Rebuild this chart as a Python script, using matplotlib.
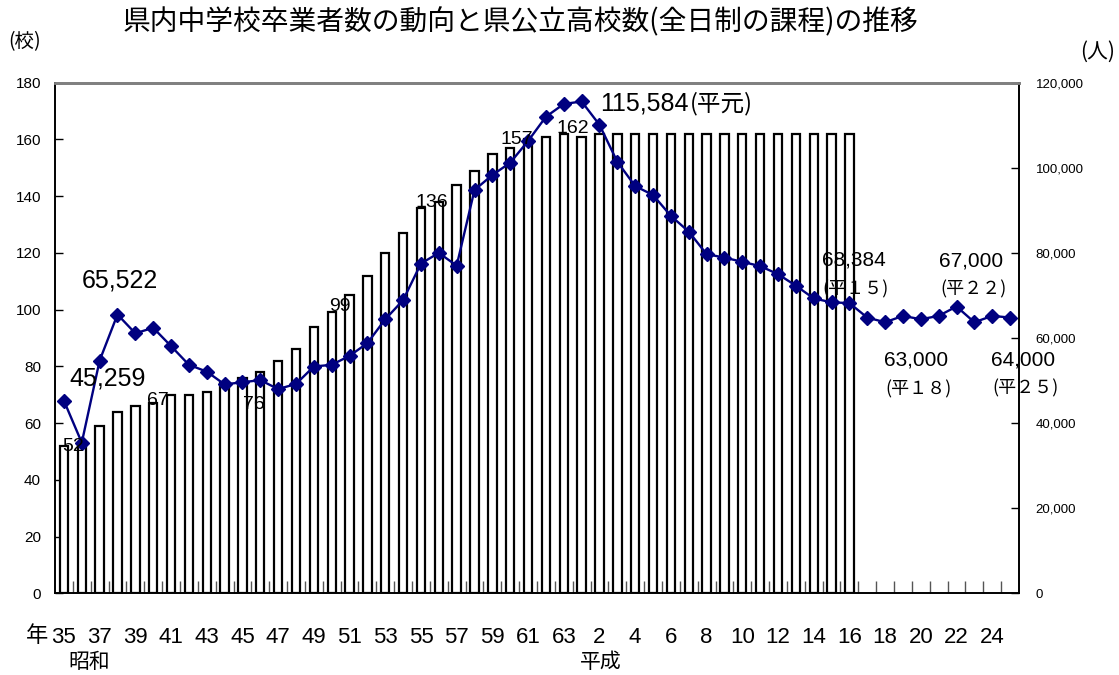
import matplotlib
matplotlib.use("Agg")
import matplotlib.pyplot as plt
from matplotlib.ticker import FuncFormatter, FixedLocator

plt.rcParams['font.family'] = ['Liberation Sans', 'Noto Sans CJK JP', 'DejaVu Sans']
CJK = ['Noto Sans CJK JP', 'Liberation Sans', 'DejaVu Sans']

# ---- data ----
year_labels = ([str(y) for y in range(35, 64)] + [str(y) for y in range(1, 26)])  # 昭和35..63, 平成1..25
schools = [52, 53, 59, 64, 66, 67, 70, 70, 71, 74, 76, 78, 82, 86, 94, 99, 105, 112, 120,
           127, 136, 138, 144, 149, 155, 157, 160, 161, 162,
           161, 162, 162, 162, 162, 162, 162, 162, 162, 162, 162, 162, 162, 162, 162, 162]
graduates = [45259, 35400, 54700, 65522, 61100, 62400, 58100, 53700, 52100, 49100,
             49600, 50100, 48000, 49200, 53300, 53700, 55800, 58800, 64400, 68900,
             77500, 80000, 77000, 94800, 98300, 101200, 106300, 112000, 115000,
             115584, 110100, 101400, 95700, 93600, 88700, 85000, 79700, 78900, 77900,
             76900, 75000, 72300, 69300, 68384, 68200, 64800, 63700, 65200, 64400,
             65200, 67400, 63700, 65200, 64800]
left_ticks = [0, 20, 40, 60, 80, 100, 120, 140, 160, 180]
right_ticks = [0, 20000, 40000, 60000, 80000, 100000, 120000]

# labelled bars: (index, text)
bar_notes = [(0, "52"), (5, "67"), (10, "76"), (15, "99"), (20, "136"), (25, "157"), (28, "162")]
# labelled line points: (index, value text, era text)
line_notes = [(0, "45,259", None), (3, "65,522", None), (29, "115,584", "(平元)"),
              (43, "68,384", "(平１５)"), (46, "63,000", "(平１８)"),
              (50, "67,000", "(平２２)"), (53, "64,000", "(平２５)")]

# ---- figure ----
fig = plt.figure(figsize=(11.19, 6.75), dpi=100)
ax = fig.add_axes([55/1119, 1-593.3/675, (1019-55)/1119, (593.3-82.7)/675])
ax2 = ax.twinx()

n = len(year_labels)
xs = list(range(n))
ax.bar(xs[:len(schools)], schools, width=0.47, color='white', edgecolor='black', linewidth=1.6, zorder=2)
ax2.plot(xs, graduates, color='#000080', linewidth=1.7, marker='D', markersize=7.5,
         markerfacecolor='#000080', markeredgecolor='#000080', zorder=3)

ax.set_xlim(-0.5, n - 0.5)
ax.set_ylim(0, 180)
ax2.set_ylim(0, 120000)

ax.set_yticks(left_ticks)
ax.tick_params(axis='y', direction='in', length=6, width=1, labelsize=11, pad=10)
ax2.set_yticks(right_ticks)
ax2.yaxis.set_major_formatter(FuncFormatter(lambda v, p: f"{int(v):,}"))
ax2.tick_params(axis='y', direction='in', length=6, width=1, labelsize=9.5, pad=12)

ax.xaxis.set_major_locator(FixedLocator(xs[::2]))
ax.set_xticklabels(year_labels[::2], fontsize=16)
ax.tick_params(axis='x', which='major', length=0, pad=24)
ax.xaxis.set_minor_locator(FixedLocator([i - 0.5 for i in range(1, n)]))
ax.tick_params(axis='x', which='minor', direction='in', length=9, width=1, color='#555555')

for a in (ax, ax2):
    a.spines['top'].set_color('#808080')
    a.spines['top'].set_linewidth(2)
    for s in ('left', 'right', 'bottom'):
        a.spines[s].set_color('black')
        a.spines[s].set_linewidth(1.2)

# bar notes
bar_offs = {0: (9, -1), 5: (5, 3), 10: (11, -27), 15: (8, 6), 20: (11, 5), 25: (7, 8), 28: (9, 5)}
for i, t in bar_notes:
    ax2.annotate(t, (i, schools[i] * 120000 / 180), xytext=bar_offs[i], textcoords='offset pixels',
                 ha='center', va='center', fontsize=14, zorder=5, annotation_clip=False)

# line notes
line_offs = {0: (44, 22), 3: (2, 34), 43: (22, 42), 46: (31, -38), 50: (15, 46), 53: (13, -42)}
for i, t, era in line_notes:
    if i == 29:
        ax2.annotate(t, (i, graduates[i]), xytext=(18, -2), textcoords='offset pixels',
                     ha='left', va='center', fontsize=18, zorder=5)
        ax2.annotate(era, (i, graduates[i]), xytext=(108, -2), textcoords='offset pixels',
                     ha='left', va='center', fontsize=17, family=CJK, zorder=5)
        continue
    offs = line_offs[i]
    fs = 18 if i in (0, 3) else 15
    ax2.annotate(t, (i, graduates[i]), xytext=offs, textcoords='offset pixels',
                 ha='center', va='center', fontsize=fs, zorder=5, annotation_clip=False)
    if era:
        ax2.annotate(era, (i, graduates[i]), xytext=(offs[0] + 2, offs[1] - 29),
                     textcoords='offset pixels', ha='center', va='center',
                     fontsize=13, family=CJK, zorder=5, annotation_clip=False)

# titles and unit labels
fig.text(520/1119, 1-22/675, "県内中学校卒業者数の動向と県公立高校数(全日制の課程)の推移",
         ha='center', va='center', fontsize=20, family=CJK)
fig.text(25/1119, 1-42/675, "(校)", ha='center', va='center', fontsize=14, family=CJK)
fig.text(1098/1119, 1-52/675, "(人)", ha='center', va='center', fontsize=15, family=CJK)
fig.text(37/1119, 1-636/675, "年", ha='center', va='center', fontsize=16, family=CJK)
fig.text(89/1119, 1-662/675, "昭和", ha='center', va='center', fontsize=15, family=CJK)
fig.text(601/1119, 1-662/675, "平成", ha='center', va='center', fontsize=15, family=CJK)

fig.savefig("out.png", dpi=100)
